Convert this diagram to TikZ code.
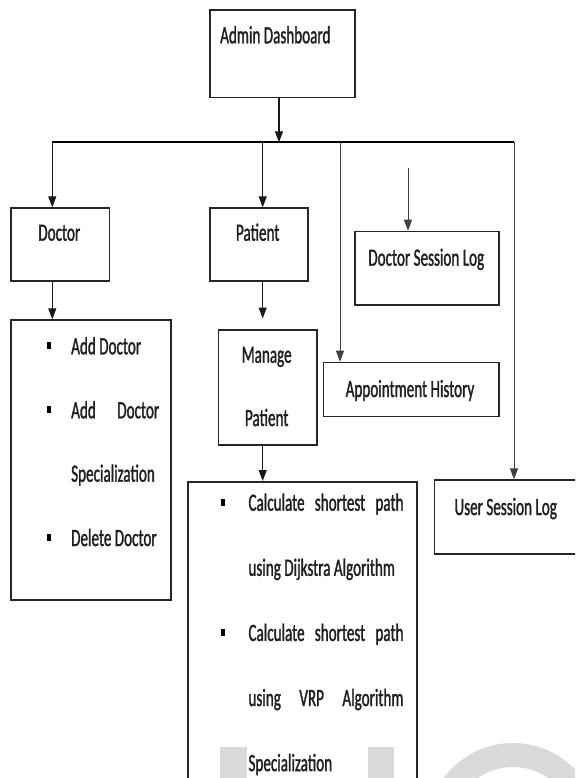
\documentclass[tikz,border=0pt]{standalone}
\usepackage{fontspec}
\setmainfont[FakeStretch=0.61, FakeBold=1.2]{Carlito}
\usetikzlibrary{arrows.meta}

\tikzset{
  box/.style={draw=black!85, line width=1.5pt, inner sep=0pt, anchor=north west, fill=none},
  txt/.style={inner sep=0pt, text=black!88, font=\fontsize{24.8}{29}\selectfont},
  arr/.style={draw=black!90, line width=1.2pt, -{Triangle[length=11pt,width=8pt]}},
  thinarr/.style={draw=black!75, line width=1pt, -{Triangle[length=11pt,width=8pt]}},
  busline/.style={draw=black, line width=2.2pt},
  bullet/.style={fill=black, inner sep=0pt, minimum width=4.2pt, minimum height=6.5pt},
  wm/.style={fill=black!15},
}

\begin{document}
\begin{tikzpicture}[x=1pt, y=-1pt]
  \useasboundingbox (0,0) rectangle (575,778);
  \clip (0,0) rectangle (575,778);
  \fill[white] (0,0) rectangle (575,778);

  % faint background marks
  \fill[wm] (220,747.3) rectangle (246.5,790);
  \fill[wm] (367.5,747.3) rectangle (394,790);
  \fill[wm, even odd rule] (513,829) circle[radius=86] (513,829) circle[radius=62];

  % boxes
  \node[box, minimum width=144.7pt, minimum height=87.4pt] (admin) at (209.3,9.3) {};
  \node[box, minimum width=98.7pt, minimum height=73pt] (doctor) at (10,207.3) {};
  \node[box, minimum width=98pt, minimum height=73pt] (patient) at (209.3,207.3) {};
  \node[box, minimum width=144pt, minimum height=73.6pt] (dsl) at (354.3,230.7) {};
  \node[box, minimum width=160.3pt, minimum height=280pt] (dlist) at (10,319.3) {};
  \node[box, minimum width=98.6pt, minimum height=115.3pt] (manage) at (217.7,329) {};
  \node[box, minimum width=175.6pt, minimum height=54pt] (appt) at (322.7,361.7) {};
  \node[box, minimum width=229pt, minimum height=320pt] (dij) at (187,481) {};
  \node[box, minimum width=170pt, minimum height=74pt] (usl) at (433.7,479.3) {};

  % box titles
  \node[txt, anchor=base west] (admintxt) at (220,43.3) {Admin Dashboard};
  \node[txt, anchor=base] (doctortxt) at (59.3,240.7) {Doctor};
  \node[txt, anchor=base] (patienttxt) at (257.7,240.7) {Patient};
  \node[txt, anchor=base] (dsltxt) at (426.3,265.7) {Doctor Session Log};
  \node[txt, anchor=base] (appttxt) at (410,397) {Appointment History};
  \node[txt, anchor=base] (managetxtA) at (266.7,362.7) {Manage};
  \node[txt, anchor=base] (managetxtB) at (266.7,426) {Patient};
  \node[txt, anchor=base west] (usltxt) at (454.3,515) {User Session Log};

  % doctor actions
  \node[bullet] (db1) at (49.3,345.5) {};
  \node[bullet] (db2) at (49.3,409.5) {};
  \node[bullet] (db3) at (49.3,537.5) {};
  \node[txt, anchor=base west] (dl1) at (71,354.3) {Add Doctor};
  \node[txt, anchor=base west] (dl2) at (71,418.3) {\makebox[88pt][s]{Add Doctor}};
  \node[txt, anchor=base west] (dl3) at (71,481.7) {Specialization};
  \node[txt, anchor=base west] (dl4) at (71,546) {Delete Doctor};

  % patient actions
  \node[bullet] (pb1) at (223.3,502.5) {};
  \node[bullet] (pb2) at (223.3,632.5) {};
  \node[txt, anchor=base west] (pl1) at (248.3,510.7) {\makebox[155pt][s]{Calculate shortest path}};
  \node[txt, anchor=base west] (pl2) at (248.3,575.8) {using Dijkstra Algorithm};
  \node[txt, anchor=base west] (pl3) at (248.3,640.9) {\makebox[155pt][s]{Calculate shortest path}};
  \node[txt, anchor=base west] (pl4) at (248.3,706) {\makebox[155pt][s]{using VRP Algorithm}};
  \node[txt, anchor=base west] (pl5) at (248.3,771.1) {Specialization};

  % distribution bus
  \coordinate (busL) at (52.3,142.3);
  \coordinate (busP) at (262.7,142.3);
  \coordinate (busA) at (340,142.3);
  \coordinate (busR) at (514,142.3);
  \coordinate (dslin) at (408,167.7);

  \draw[arr] ([xshift=-3.4pt]admin.south) -- ([xshift=-3.4pt]admin.south |- busL);
  \draw[busline] (busL) -- (busR);

  \draw[arr] (busL) -- (busL |- doctor.north);
  \draw[arr] (busP) -- (busP |- patient.north);
  \draw[thinarr] (busA) -- (busA |- appt.north);
  \draw[thinarr] (busR) -- (busR |- usl.north);
  \draw[thinarr] (dslin) -- (dslin |- dsl.north);

  \draw[arr] (busL |- doctor.south) -- (busL |- dlist.north);
  \draw[arr] (busP |- patient.south) -- ([yshift=10.5pt]busP |- manage.north);
  \draw[arr] (busP |- manage.south) -- (busP |- dij.north);
\end{tikzpicture}
\end{document}
